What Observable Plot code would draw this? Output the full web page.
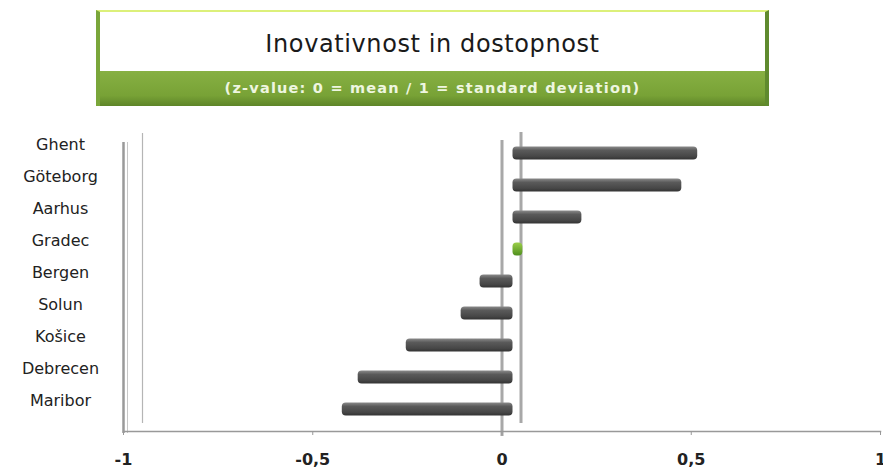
<!DOCTYPE html>
<html>
<head>
<meta charset="utf-8">
<script src="https://cdn.jsdelivr.net/npm/d3@7"></script>
<script src="https://cdn.jsdelivr.net/npm/@observablehq/plot@0.6"></script>
<style>
  html, body { margin: 0; padding: 0; background: #fff; width: 883px; height: 474px; overflow: hidden; }
  #head { position: absolute; left: 96px; top: 10px; width: 673px; height: 96px; box-sizing: border-box;
          border-top: 2px solid #dcf07a; border-left: 4px solid #7aa63a; border-right: 4px solid #5f8a2e;
          background: #fff; }
  #title { position: absolute; left: 0; right: 0; top: 0; height: 59px; text-align: center;
           font-family: "DejaVu Sans", sans-serif; font-size: 24px; line-height: 64px; color: #1a1a1a; letter-spacing: 0.6px; }
  #sub { position: absolute; left: 0; right: 0; top: 59px; height: 35px; text-align: center;
         background: linear-gradient(#87b043, #78a236 70%, #5e8528);
         font-family: "DejaVu Sans", sans-serif; font-weight: bold; font-size: 14.5px; line-height: 34px; color: #eef6e0; letter-spacing: 1.2px; }
  #chart { position: absolute; left: 0; top: 110px; }
</style>
</head>
<body>
<div id="head"><div id="title">Inovativnost in dostopnost</div><div id="sub">(z-value: 0 = mean / 1 = standard deviation)</div></div>
<div id="chart"></div>
<script>
const cities = ["Ghent", "Göteborg", "Aarhus", "Gradec", "Bergen", "Solun", "Košice", "Debrecen", "Maribor"];
const values = [0.488, 0.446, 0.182, 0.026, -0.087, -0.137, -0.282, -0.409, -0.451];
const highlight = ["Gradec"];
const xTicks = [-1, -0.5, 0, 0.5, 1];
const xTickLabels = ["-1", "-0,5", "0", "0,5", "1"];

const data = cities.map((c, i) => ({city: c, value: values[i]}));

const plot = Plot.plot({
  width: 883,
  height: 364,
  marginLeft: 123,
  marginRight: 3,
  marginTop: 26,
  marginBottom: 48,
  style: {fontFamily: "DejaVu Sans, sans-serif", background: "transparent"},
  x: {domain: [-1, 1], label: null},
  y: {domain: cities, padding: 0, axis: null},
  marks: [
    // left 3D wall
    Plot.ruleX([-1], {stroke: "#9a9a9a", strokeWidth: 2.5, insetTop: 6, insetBottom: -7}),
    Plot.ruleX([-1], {stroke: "#b5b5b5", strokeWidth: 1.2, dx: 19, insetTop: -3, insetBottom: 3}),
    Plot.ruleX([-1], {stroke: "#c8c8c8", strokeWidth: 1, dx: 4, insetTop: 6, insetBottom: -7}),
    // zero planes
    Plot.ruleX([0], {stroke: "#a8a8a8", strokeWidth: 3, insetTop: 4, insetBottom: -10}),
    Plot.ruleX([0], {stroke: "#a8a8a8", strokeWidth: 3, dx: 19, insetTop: -4, insetBottom: 3}),
    // bars
    Plot.barX(data, {
      x1: 0, x2: "value", y: "city", dx: 11,
      fill: d => highlight.includes(d.city) ? "url(#gGreen)" : "url(#gGray)",
      insetTop: 9.5, insetBottom: 9.5, rx: 4
    }),
    // city labels
    Plot.text(data, {
      y: "city", text: "city", frameAnchor: "left", dx: -63, dy: -9,
      textAnchor: "middle", fontSize: 16, fill: "#222", letterSpacing: 1.3
    }),
    // x axis line
    Plot.frame({anchor: "bottom", stroke: "#999", strokeWidth: 1.5, dy: 5}),
    Plot.axisX({ticks: xTicks, tickSize: 4, dy: 5, stroke: "#999", text: null, label: null}),
    Plot.axisX({ticks: xTicks, tickSize: 0, tickPadding: 27, label: null,
      tickFormat: d => xTickLabels[xTicks.indexOf(d)],
      fontSize: 16, fontWeight: "bold", fill: "#222", letterSpacing: 1})
  ]
});

const svg = d3.select(plot);
const defs = svg.insert("defs", ":first-child");
const gg = defs.append("linearGradient").attr("id", "gGray").attr("x1", 0).attr("x2", 0).attr("y1", 0).attr("y2", 1);
gg.append("stop").attr("offset", "0%").attr("stop-color", "#8a8a8a");
gg.append("stop").attr("offset", "30%").attr("stop-color", "#5a5a5a");
gg.append("stop").attr("offset", "75%").attr("stop-color", "#474747");
gg.append("stop").attr("offset", "100%").attr("stop-color", "#333");
const gr = defs.append("linearGradient").attr("id", "gGreen").attr("x1", 0).attr("x2", 0).attr("y1", 0).attr("y2", 1);
gr.append("stop").attr("offset", "0%").attr("stop-color", "#9ccf4a");
gr.append("stop").attr("offset", "100%").attr("stop-color", "#4f8f1d");

document.getElementById("chart").appendChild(plot);
</script>
</body>
</html>
